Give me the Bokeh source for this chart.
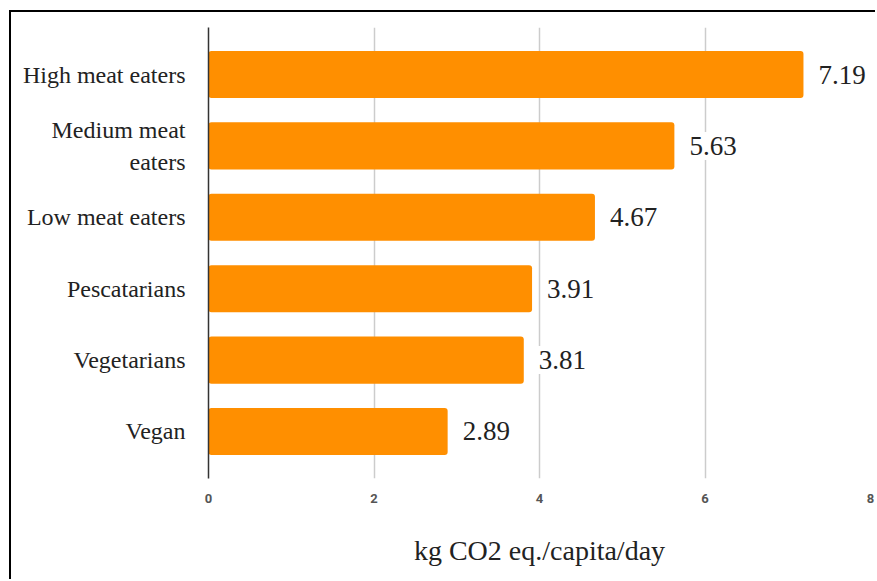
from bokeh.plotting import figure
from bokeh.models import FactorRange, ColumnDataSource, FixedTicker
from bokeh.embed import file_html
from bokeh.resources import INLINE
from bokeh.core.properties import value

categories = ["High meat eaters", "Medium meat\neaters", "Low meat eaters",
              "Pescatarians", "Vegetarians", "Vegan"]
values = [7.19, 5.63, 4.67, 3.91, 3.81, 2.89]
value_labels = ["7.19", "5.63", "4.67", "3.91", "3.81", "2.89"]
x_ticks = [0, 2, 4, 6, 8]
x_title = "kg CO2 eq./capita/day"

src = ColumnDataSource(dict(cat=categories, val=values, lab=value_labels))

yr = FactorRange(factors=list(reversed(categories)), range_padding=0.053)

p = figure(width=866, height=569, y_range=yr, x_range=(0, 8),
           output_backend="svg", toolbar_location=None,
           min_border_left=197, min_border_right=7,
           min_border_top=15, min_border_bottom=103,
           styles={"margin-left": "9px", "margin-top": "10px",
                   "border-left": "2px solid black", "border-top": "2px solid black"})
p.outline_line_color = None

p.hbar(y="cat", right="val", left=0, height=0.66, source=src,
       fill_color="#ff8f00", line_color=None, border_radius=3)

p.text(x="val", y="cat", text="lab", source=src, x_offset=10,
       text_baseline="middle", text_align="left",
       text_font=value("Liberation Serif"), text_font_size="27px",
       text_color="#222222", background_fill_color="white", padding=5)

p.xaxis.ticker = FixedTicker(ticks=x_ticks)
p.xaxis.axis_line_color = None
p.xaxis.major_tick_line_color = None
p.xaxis.minor_tick_line_color = None
p.xaxis.major_label_text_font = "Roboto"
p.xaxis.major_label_text_font_style = "bold"
p.xaxis.major_label_text_font_size = "13px"
p.xaxis.major_label_text_color = "#555555"
p.xaxis.major_label_standoff = 9
p.xaxis.axis_label = x_title
p.xaxis.axis_label_text_font = "Liberation Serif"
p.xaxis.axis_label_text_font_style = "normal"
p.xaxis.axis_label_text_font_size = "28px"
p.xaxis.axis_label_text_color = "#222222"
p.xaxis.axis_label_standoff = 29

p.yaxis.axis_line_color = "#333333"
p.yaxis.axis_line_width = 1.5
p.yaxis.major_tick_line_color = None
p.yaxis.minor_tick_line_color = None
p.yaxis.major_label_text_font = "Liberation Serif"
p.yaxis.major_label_text_font_size = "24px"
p.yaxis.major_label_text_color = "#222222"
p.yaxis.major_label_standoff = 17

p.ygrid.grid_line_color = None
p.xgrid.grid_line_color = "#cccccc"
p.xgrid.grid_line_width = 1.5

open("out.html", "w").write(file_html(p, INLINE))
